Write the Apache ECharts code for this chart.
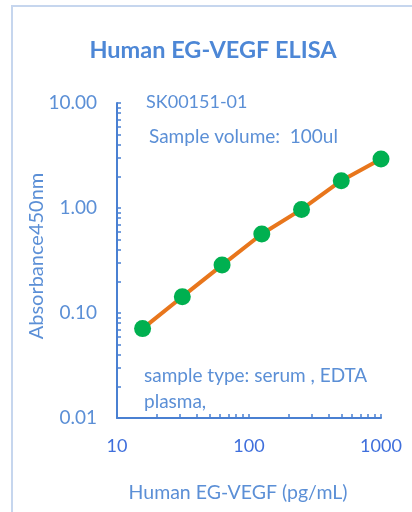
<!DOCTYPE html>
<html>
<head>
<meta charset="utf-8">
<script src="https://cdn.jsdelivr.net/npm/echarts@6/dist/echarts.min.js"></script>
<style>
  html, body { margin: 0; padding: 0; background: #fff; }
  #chart { width: 412px; height: 512px; }
</style>
</head>
<body>
<div id="chart"></div>
<script>
// standard curve data
const concentrations = [15.625, 31.25, 62.5, 125, 250, 500, 1000]
const absorbance = [0.071, 0.143, 0.286, 0.565, 0.97, 1.82, 2.93]

// tick positions (log axis, 1..9 per decade)
const xTicks = [10, 20, 30, 40, 50, 60, 70, 80, 90, 100, 200, 300, 400, 500, 600, 700, 800, 900, 1000]
const yTicks = [0.01, 0.02, 0.03, 0.04, 0.05, 0.06, 0.07, 0.08, 0.09, 0.1, 0.2, 0.3, 0.4, 0.5, 0.6, 0.7, 0.8, 0.9,
  1, 2, 3, 4, 5, 6, 7, 8, 9, 10]
const xLabels = [10, 100, 1000]
const yLabels = [0.01, 0.1, 1, 10]

const axisColor = '#4a80d2'
const textColor = '#5b8fd6'
const font = 'Lato, "Open Sans", sans-serif'

const chart = echarts.init(document.getElementById('chart'))

chart.setOption({
  backgroundColor: '#fff',
  animation: false,
  grid: { left: 117, right: 31, top: 103, bottom: 94 },
  xAxis: {
    type: 'log',
    logBase: 10,
    min: 10,
    max: 1000,
    axisLine: { lineStyle: { color: axisColor, width: 2 }},
    axisTick: { inside: true, length: 4, customValues: xTicks, lineStyle: { color: axisColor, width: 1.5 }},
    axisLabel: {
      customValues: xLabels,
      margin: 19,
      color: '#3f6fdc',
      fontSize: 18,
      fontFamily: font,
      formatter: v => String(v)
    },
    splitLine: { show: false }
  },
  yAxis: {
    type: 'log',
    logBase: 10,
    min: 0.01,
    max: 10,
    axisLine: { show: true, lineStyle: { color: axisColor, width: 2 }},
    axisTick: { show: true, inside: true, length: 4, customValues: yTicks, lineStyle: { color: axisColor, width: 1.5 }},
    axisLabel: {
      customValues: yLabels,
      margin: 20,
      color: textColor,
      fontSize: 19,
      fontFamily: font,
      formatter: v => Number(v).toFixed(2)
    },
    splitLine: { show: false }
  },
  series: [{
    type: 'line',
    data: concentrations.map((c, i) => [c, absorbance[i]]),
    lineStyle: { color: '#e8761c', width: 4 },
    symbol: 'circle',
    symbolSize: 17,
    itemStyle: { color: '#00b050' },
    z: 3
  }],
  graphic: [
    // outer frame
    { type: 'rect', shape: { x: 12, y: 6, width: 430, height: 530 },
      style: { fill: null, stroke: '#c6d6ee', lineWidth: 2 }, silent: true },
    { type: 'text', x: 213, y: 50,
      style: { text: 'Human EG-VEGF ELISA', fill: '#4d87d6', font: 'bold 23.5px ' + font, align: 'center', verticalAlign: 'middle' }},
    { type: 'text', x: 146, y: 102,
      style: { text: 'SK00151-01', fill: textColor, font: '18px ' + font, verticalAlign: 'middle' }},
    { type: 'text', x: 149, y: 137,
      style: { text: 'Sample volume:  100ul', fill: textColor, font: '19px ' + font, verticalAlign: 'middle' }},
    { type: 'text', x: 144, y: 376,
      style: { text: 'sample type: serum , EDTA', fill: textColor, font: '19px ' + font, verticalAlign: 'middle' }},
    { type: 'text', x: 144, y: 402,
      style: { text: 'plasma,', fill: textColor, font: '19px ' + font, verticalAlign: 'middle' }},
    { type: 'text', x: 238, y: 493,
      style: { text: 'Human EG-VEGF (pg/mL)', fill: textColor, font: '19.5px ' + font, align: 'center', verticalAlign: 'middle' }},
    { type: 'text', x: 37, y: 256, rotation: Math.PI / 2,
      style: { text: 'Absorbance450nm', fill: textColor, font: '20px ' + font, align: 'center', verticalAlign: 'middle' }}
  ]
})
</script>
</body>
</html>
